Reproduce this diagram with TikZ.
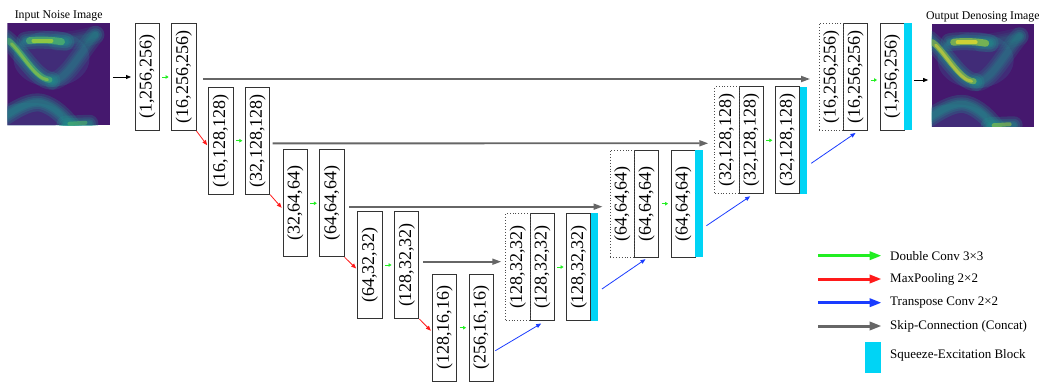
\documentclass[tikz,border=0pt]{standalone}
\usepackage{fontspec}
\setmainfont{Liberation Serif}
\usepackage{graphicx}
\usetikzlibrary{arrows.meta, positioning}

\definecolor{skipgray}{HTML}{666666}
\definecolor{convgreen}{HTML}{22EE22}
\definecolor{poolred}{HTML}{FF1A1A}
\definecolor{upblue}{HTML}{1A3CFF}
\definecolor{secyan}{HTML}{00D4F5}
\definecolor{vdark}{HTML}{45186E}
\definecolor{vblue}{HTML}{3B528B}
\definecolor{vteal}{HTML}{21918C}
\definecolor{vgreen}{HTML}{5EC962}
\definecolor{vlime}{HTML}{B5DE2B}
\definecolor{vyellow}{HTML}{FDE725}

\newcommand{\featdim}[1]{\rotatebox{90}{#1}}

% soft band: colour, opacity, path
\newcommand{\glow}[3]{%
  \foreach \w in {18,13,9,6} {\draw[#1, line width=\w pt, opacity=#2] #3;}}

% heat map picture inside an image node
\newcommand{\bandmap}[3]{%
  \begin{scope}[shift={(#1.north west)}, line cap=round]
    \clip (0,0) rectangle (102.5,102.5);
    \fill[vdark] (0,0) rectangle (102.5,102.5);
    \fill[vblue, opacity=.35] (44,36) ellipse (38pt and 28pt);
    \fill[vblue, opacity=.35] (22,94) ellipse (34pt and 14pt);
    % faint right arm and top edge
    \glow{vteal}{.18}{(46,58) .. controls (60,56) and (74,28) .. (88,12)}
    \glow{vteal}{.12}{(50,19) .. controls (62,18) and (75,16) .. (88,12)}
    % left arm
    \glow{vteal}{.25}{(-3,15) .. controls (14,28) and (28,57) .. (44,58)}
    \draw[#2, line width=6pt, opacity=.45] (1,18) .. controls (14,28) and (28,56) .. (42,57);
    \draw[#3, line width=3pt, opacity=.45] (4,21) .. controls (14,30) and (28,56) .. (40,57);
    % top bar
    \glow{vteal}{.25}{(18,18) .. controls (28,16) and (45,17) .. (58,19)}
    \draw[#2, line width=7pt, opacity=.55] (22,18) .. controls (30,17) and (44,17) .. (54,19);
    \draw[#3, line width=4pt, opacity=.65] (26,18) -- (44,18);
    % lower band
    \glow{vteal}{.25}{(-3,94) .. controls (12,84) and (24,78) .. (34,80) .. controls (46,83) and (58,94) .. (66,106)}
    \glow{vteal}{.25}{(58,102) -- (82,101)}
    \draw[#2, line width=4pt, opacity=.45] (62,101) -- (78,100);
  \end{scope}}

\begin{document}
\begin{tikzpicture}[x=1pt, y=-1pt,
  layer/.style={draw=black!80, line width=0.9pt, fill=white, minimum width=24.3pt, minimum height=107pt, inner sep=0pt, outer sep=0pt, font=\fontsize{18}{18}\selectfont},
  copied/.style={layer, draw=black!70, dotted, line width=0.7pt, fill=none},
  sebar/.style={fill=secyan, minimum width=7.6pt, minimum height=107pt, inner sep=0pt, outer sep=0pt},
  photo/.style={minimum size=102.5pt, inner sep=0pt, outer sep=0pt},
  caption/.style={inner sep=0pt, font=\fontsize{11.8}{13}\selectfont},
  key/.style={anchor=west, inner sep=0pt, font=\fontsize{13}{15}\selectfont},
  dconv/.style={-{Triangle[length=3pt,width=3.5pt]}, convgreen, line width=0.7pt},
  maxpool/.style={-{Triangle[length=5pt,width=4pt]}, poolred, line width=0.8pt},
  upconv/.style={-{Triangle[length=5pt,width=4pt]}, upblue, line width=0.8pt},
  skipline/.style={-{Triangle[length=9pt,width=6pt]}, skipgray, line width=1.8pt},
  io/.style={-{Triangle[length=5pt,width=4pt]}, black, line width=0.8pt},
  keyarrow/.style={-{Triangle[length=12pt,width=8pt]}, line width=3pt}]
\useasboundingbox (0,0) rectangle (1039,382);

% input and output images
\node[photo] (inimg) at (58.7,74) {};
\node[photo] (outimg) at (982.9,75.5) {};
\bandmap{inimg}{vgreen}{vlime}
\bandmap{outimg}{vlime}{vyellow}
\node[caption, above=2pt of inimg] (inlabel) {Input Noise Image};
\node[caption, above=2.5pt of outimg] (outlabel) {Output Denosing Image};

% encoder
\node[layer] (e1a) at (147.2,77) {\featdim{(1,256,256)}};
\node[layer] (e1b) at (183.8,77) {\featdim{(16,256,256)}};
\node[layer] (e2a) at (220.8,140.7) {\featdim{(16,128,128)}};
\node[layer] (e2b) at (257.5,140.7) {\featdim{(32,128,128)}};
\node[layer] (e3a) at (295.3,203.3) {\featdim{(32,64,64)}};
\node[layer] (e3b) at (332,203.3) {\featdim{(64,64,64)}};
\node[layer] (e4a) at (369.8,265) {\featdim{(64,32,32)}};
\node[layer] (e4b) at (406.7,265) {\featdim{(128,32,32)}};
\node[layer] (e5a) at (444.5,327.7) {\featdim{(128,16,16)}};
\node[layer] (e5b) at (481.2,327.7) {\featdim{(256,16,16)}};

% decoder
\node[layer] (d4b) at (542.2,267) {\featdim{(128,32,32)}};
\node[copied, left=0pt of d4b] (d4a) {\featdim{(128,32,32)}};
\node[layer] (d4c) at (578.7,267) {\featdim{(128,32,32)}};
\node[sebar, right=0pt of d4c] (se4) {};
\node[layer] (d3b) at (646.5,203.7) {\featdim{(64,64,64)}};
\node[copied, left=0pt of d3b] (d3a) {\featdim{(64,64,64)}};
\node[layer] (d3c) at (683.2,203.7) {\featdim{(64,64,64)}};
\node[sebar, right=0pt of d3c] (se3) {};
\node[layer] (d2b) at (751.2,140.3) {\featdim{(32,128,128)}};
\node[copied, left=0pt of d2b] (d2a) {\featdim{(32,128,128)}};
\node[layer] (d2c) at (787.5,140.3) {\featdim{(32,128,128)}};
\node[sebar, right=0pt of d2c] (se2) {};
\node[layer] (d1b) at (855.5,77) {\featdim{(16,256,256)}};
\node[copied, left=0pt of d1b] (d1a) {\featdim{(16,256,256)}};
\node[layer] (d1c) at (892.2,77) {\featdim{(1,256,256)}};
\node[sebar, right=0pt of d1c] (se1) {};

% double convs
\draw[dconv] ([xshift=3pt]e1a.east) -- ([xshift=-3pt]e1b.west);
\draw[dconv] ([xshift=3pt]e2a.east) -- ([xshift=-3pt]e2b.west);
\draw[dconv] ([xshift=3pt]e3a.east) -- ([xshift=-3pt]e3b.west);
\draw[dconv] ([xshift=3pt]e4a.east) -- ([xshift=-3pt]e4b.west);
\draw[dconv] ([xshift=3pt]e5a.east) -- ([xshift=-3pt]e5b.west);
\draw[dconv] ([xshift=3pt]d4b.east) -- ([xshift=-3pt]d4c.west);
\draw[dconv] ([xshift=3pt]d3b.east) -- ([xshift=-3pt]d3c.west);
\draw[dconv] ([xshift=3pt]d2b.east) -- ([xshift=-3pt]d2c.west);
\draw[dconv] ([xshift=3pt,yshift=-3pt]d1b.east) -- ([xshift=-3pt,yshift=-3pt]d1c.west);

% max pooling
\draw[maxpool] ([xshift=0.5pt,yshift=-0.5pt]e1b.south east) -- ([xshift=-1.5pt,yshift=-4.5pt]e2a.west);
\draw[maxpool] ([xshift=0.5pt,yshift=-0.5pt]e2b.south east) -- ([xshift=-1.5pt,yshift=-4.5pt]e3a.west);
\draw[maxpool] ([xshift=0.5pt,yshift=-0.5pt]e3b.south east) -- ([xshift=-1.5pt,yshift=-3.5pt]e4a.west);
\draw[maxpool] ([xshift=0.5pt,yshift=-0.5pt]e4b.south east) -- ([xshift=-1.5pt,yshift=-3pt]e5a.west);

% transpose convs
\draw[upconv] ([xshift=2pt,yshift=-23pt]e5b.east) -- ([xshift=-1pt,yshift=-3pt]d4b.south);
\draw[upconv] ([xshift=3.5pt,yshift=-22pt]se4.east) -- ([xshift=-1pt,yshift=-2pt]d3b.south);
\draw[upconv] ([xshift=3.5pt,yshift=-22pt]se3.east) -- ([xshift=-1pt,yshift=-2.5pt]d2b.south);
\draw[upconv] ([xshift=4pt,yshift=-23pt]se2.east) -- ([yshift=-2.5pt]d1b.south);

% skip connections
\draw[skipline] ([xshift=7pt,yshift=-2pt]e1b.east) -- ([xshift=-9pt,yshift=-2pt]d1a.west);
\draw[skipline] ([xshift=3pt,yshift=-2.7pt]e2b.east) -- ([xshift=-6.5pt,yshift=-3pt]d2a.west);
\draw[skipline] ([xshift=5pt,yshift=-3.4pt]e3b.east) -- ([xshift=-7.5pt,yshift=-3pt]d3a.west);
\draw[skipline] ([xshift=4.5pt,yshift=3.3pt]e4b.east) -- ([xshift=-4.5pt,yshift=5.3pt]d4a.west);

% in and out
\draw[io] ([xshift=3pt,yshift=-3pt]inimg.east) -- ([xshift=-4pt]e1a.west);
\draw[io] ([xshift=1.8pt,yshift=-3pt]se1.east) -- ([xshift=-3.5pt,yshift=-4.5pt]outimg.west);

% legend
\node[key] (kconv) at (890,255.7) {Double Conv 3×3};
\node[key] (kpool) at (890,279) {MaxPooling 2×2};
\node[key] (kup) at (890,302.7) {Transpose Conv 2×2};
\node[key] (kskip) at (890,326) {Skip-Connection (Concat)};
\node[key] (kse) at (890,355) {Squeeze-Excitation Block};
\draw[keyarrow, convgreen] ([xshift=-71.7pt]kconv.west) -- ([xshift=-8.3pt]kconv.west);
\draw[keyarrow, poolred] ([xshift=-71.7pt]kpool.west) -- ([xshift=-8.3pt]kpool.west);
\draw[keyarrow, upblue] ([xshift=-71.7pt]kup.west) -- ([xshift=-8.3pt]kup.west);
\draw[keyarrow, skipgray] ([xshift=-71.7pt]kskip.west) -- ([xshift=-8.3pt]kskip.west);
\node[sebar, minimum width=16pt, minimum height=31.6pt] (kbar) at (873,357.5) {};
\end{tikzpicture}
\end{document}
